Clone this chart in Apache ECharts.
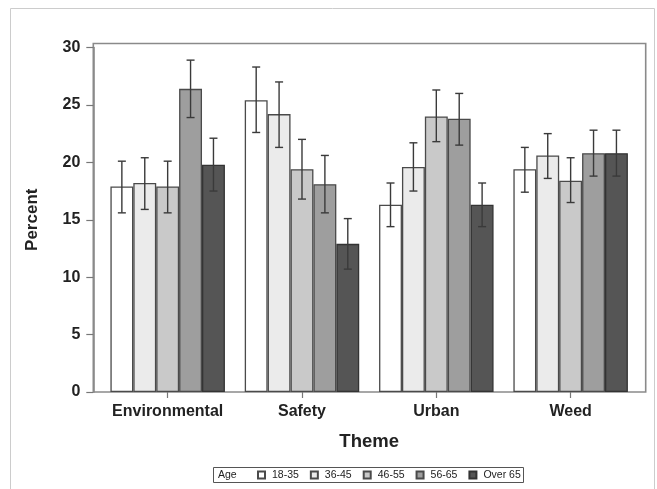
<!DOCTYPE html>
<html>
<head>
<meta charset="utf-8">
<script src="https://cdn.jsdelivr.net/npm/echarts@6/dist/echarts.min.js"></script>
<style>
html,body{margin:0;padding:0;background:#fff;}
#chart{width:657px;height:489px;}
</style>
</head>
<body>
<div id="chart"></div>
<script>
var categories = ['Environmental', 'Safety', 'Urban', 'Weed'];
var ageGroups = ['18-35', '36-45', '46-55', '56-65', 'Over 65'];
var yTicks = [0, 5, 10, 15, 20, 25, 30];

var val_18_35 = [17.9, 25.4, 16.3, 19.4];
var val_36_45 = [18.2, 24.2, 19.6, 20.6];
var val_46_55 = [17.9, 19.4, 24.0, 18.4];
var val_56_65 = [26.4, 18.1, 23.8, 20.8];
var val_over65 = [19.8, 12.9, 16.3, 20.8];

var lo_18_35 = [15.6, 22.6, 14.4, 17.4];
var hi_18_35 = [20.1, 28.3, 18.2, 21.3];
var lo_36_45 = [15.9, 21.3, 17.5, 18.6];
var hi_36_45 = [20.4, 27.0, 21.7, 22.5];
var lo_46_55 = [15.6, 16.8, 21.8, 16.5];
var hi_46_55 = [20.1, 22.0, 26.3, 20.4];
var lo_56_65 = [23.9, 15.6, 21.5, 18.8];
var hi_56_65 = [28.9, 20.6, 26.0, 22.8];
var lo_over65 = [17.5, 10.7, 14.4, 18.8];
var hi_over65 = [22.1, 15.1, 18.2, 22.8];

var values = [val_18_35, val_36_45, val_46_55, val_56_65, val_over65];
var lows = [lo_18_35, lo_36_45, lo_46_55, lo_56_65, lo_over65];
var highs = [hi_18_35, hi_36_45, hi_46_55, hi_56_65, hi_over65];

var fills = ['#ffffff', '#ebebeb', '#c9c9c9', '#9e9e9e', '#555555'];
var borders = ['#4a4a4a', '#4a4a4a', '#4a4a4a', '#4a4a4a', '#333333'];
var FONT = "'Liberation Sans', Arial, Helvetica, sans-serif";
var BAR_W = 22.9;

var chart = echarts.init(document.getElementById('chart'));

var series = [];
ageGroups.forEach(function (name, g) {
  series.push({
    name: name,
    type: 'bar',
    xAxisIndex: 2,
    yAxisIndex: 2,
    barWidth: BAR_W,
    barGap: '0%',
    data: values[g],
    itemStyle: { color: fills[g], borderColor: borders[g], borderWidth: 1.3 },
    emphasis: { disabled: true },
    z: 2
  });
});
ageGroups.forEach(function (name, g) {
  var off = (g - 2) * BAR_W;
  series.push({
    name: name + ' err',
    type: 'custom',
    xAxisIndex: 2,
    yAxisIndex: 2,
    z: 5,
    silent: true,
    data: categories.map(function (c, i) { return [i, lows[g][i], highs[g][i]]; }),
    encode: { x: 0, y: [1, 2] },
    renderItem: function (params, api) {
      var c = api.value(0);
      var x = api.coord([c, 0])[0] + off;
      var yl = api.coord([c, api.value(1)])[1];
      var yh = api.coord([c, api.value(2)])[1];
      var st = { stroke: '#3a3a3a', lineWidth: 1.4 };
      return {
        type: 'group',
        children: [
          { type: 'line', shape: { x1: x, y1: yl, x2: x, y2: yh }, style: st },
          { type: 'line', shape: { x1: x - 4, y1: yl, x2: x + 4, y2: yl }, style: st },
          { type: 'line', shape: { x1: x - 4, y1: yh, x2: x + 4, y2: yh }, style: st }
        ]
      };
    }
  });
});

chart.setOption({
  animation: false,
  backgroundColor: '#ffffff',
  textStyle: { fontFamily: FONT },
  graphic: [
    { type: 'rect', shape: { x: 10.5, y: 8.5, width: 644, height: 500 }, style: { fill: 'none', stroke: '#cccccc', lineWidth: 1 }, z: -1 },
    { type: 'rect', shape: { x: 213.5, y: 467.5, width: 310, height: 15 }, style: { fill: '#fff', stroke: '#555555', lineWidth: 1 }, z: 0 },
    { type: 'text', left: 218, top: 469.5, style: { text: 'Age', font: "10.5px " + FONT, fill: '#222' }, z: 10 }
  ],
  legend: {
    data: ageGroups,
    left: 257,
    top: 469,
    padding: 0,
    itemWidth: 7,
    itemHeight: 7,
    itemGap: 11,
    icon: 'rect',
    selectedMode: false,
    textStyle: { fontSize: 10.5, color: '#222', fontFamily: FONT, padding: [0, 0, 0, 2], lineHeight: 12 },
    z: 10
  },
  grid: [
    { left: 93.3, top: 43.5, width: 552.4, height: 348.5, show: true, borderColor: '#8a8a8a', borderWidth: 1.6, backgroundColor: 'transparent', containLabel: false },
    { left: 93.3, top: 47.5, width: 552.4, height: 344.5, containLabel: false },
    { left: 100.5, top: 47.5, width: 537.3, height: 344.5, containLabel: false }
  ],
  xAxis: [
    { gridIndex: 0, type: 'value', show: false },
    { gridIndex: 1, type: 'value', show: false },
    {
      gridIndex: 2,
      type: 'category',
      data: categories,
      axisLine: { show: false },
      axisTick: { show: true, alignWithLabel: true, interval: 0, length: 6, lineStyle: { color: '#777', width: 1.2 } },
      axisLabel: { interval: 0, fontSize: 16, fontWeight: 'bold', color: '#222', margin: 12, fontFamily: FONT },
      name: 'Theme',
      nameLocation: 'middle',
      nameGap: 40,
      nameTextStyle: { fontSize: 18.5, fontWeight: 'bold', color: '#222', fontFamily: FONT }
    }
  ],
  yAxis: [
    { gridIndex: 0, type: 'value', show: false },
    {
      gridIndex: 1,
      type: 'value',
      min: yTicks[0],
      max: yTicks[yTicks.length - 1],
      interval: 5,
      axisLine: { show: true, lineStyle: { color: '#8a8a8a', width: 1.6 } },
      axisTick: { show: true, inside: false, length: 7, lineStyle: { color: '#777', width: 1.2 } },
      axisLabel: { fontSize: 16, fontWeight: 'bold', color: '#222', margin: 13, fontFamily: FONT },
      splitLine: { show: false },
      name: 'Percent',
      nameLocation: 'middle',
      nameGap: 52,
      nameTextStyle: { fontSize: 17, fontWeight: 'bold', color: '#222', fontFamily: FONT }
    },
    { gridIndex: 2, type: 'value', min: 0, max: 30, show: false }
  ],
  series: series
});
</script>
</body>
</html>
